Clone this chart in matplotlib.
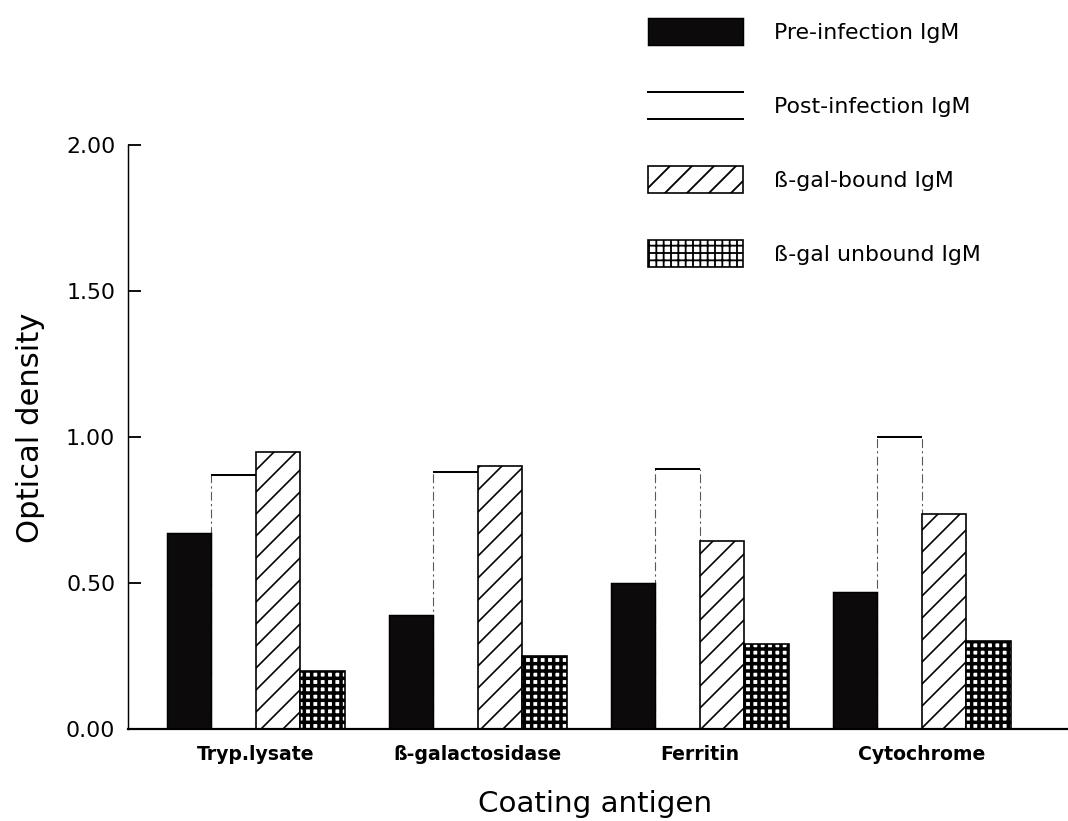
import numpy as np
import matplotlib
matplotlib.use("Agg")
import matplotlib.pyplot as plt
from matplotlib.patches import Patch
from matplotlib.lines import Line2D

# ---- data ----
categories = ["Tryp.lysate", "\u00df-galactosidase", "Ferritin", "Cytochrome"]
pre_infection = [0.67, 0.39, 0.50, 0.47]
post_infection = [0.87, 0.88, 0.89, 1.00]
bgal_bound = [0.95, 0.90, 0.645, 0.735]
bgal_unbound = [0.20, 0.25, 0.29, 0.30]
series_labels = ["Pre-infection IgM", "Post-infection IgM",
                 "\u00df-gal-bound IgM", "\u00df-gal unbound IgM"]
yticks = [0.0, 0.5, 1.0, 1.5, 2.0]
ytick_labels = ["0.00", "0.50", "1.00", "1.50", "2.00"]

DPI = 132
plt.rcParams['font.family'] = ['DejaVu Sans']
fig = plt.figure(figsize=(1068 / DPI, 821 / DPI), dpi=DPI)
ax = fig.add_axes([128 / 1068, 92 / 821, 940 / 1068, 584 / 821])

group_step = 5
idx = np.arange(len(categories)) * group_step
w = 1.0

def set_hlw(p, lw):
    if hasattr(p, "set_hatch_linewidth"):
        p.set_hatch_linewidth(lw)

# post-infection (open bars with top line and faint dashed sides)
ax.bar(idx + 1, post_infection, width=w, align='edge',
       facecolor='white', edgecolor='none', zorder=1)
ax.hlines(post_infection, idx + 1, idx + 2, colors='black', lw=1.1, zorder=3)
ax.vlines(idx + 1, 0, post_infection, colors='0.35', lw=0.6,
          linestyles=(0, (8, 3, 2, 3)), zorder=1)
ax.vlines(idx + 2, 0, post_infection, colors='0.35', lw=0.6,
          linestyles=(0, (8, 3, 2, 3)), zorder=1)

# pre-infection (solid black)
ax.bar(idx, pre_infection, width=w, align='edge', facecolor='#0d0a0b',
       edgecolor='black', lw=0.8, zorder=2)

# beta-gal bound (diagonal hatch)
with plt.rc_context({'hatch.linewidth': 0.9}):
    bb = ax.bar(idx + 2, bgal_bound, width=w, align='edge', facecolor='white',
                edgecolor='black', lw=0.9, hatch='//', zorder=2)
for p in bb:
    set_hlw(p, 0.9)

# beta-gal unbound (dense grid)
with plt.rc_context({'hatch.linewidth': 1.9}):
    ub = ax.bar(idx + 3, bgal_unbound, width=w, align='edge', facecolor='white',
                edgecolor='black', lw=0.9, hatch='+++', zorder=2)
for p in ub:
    set_hlw(p, 1.9)

ax.set_xlim(-39 / 44.4, (1068 - 167) / 44.4)
ax.set_ylim(0, 2.0)

ax.spines['top'].set_visible(False)
ax.spines['right'].set_visible(False)
ax.spines['left'].set_linewidth(0.8)
ax.spines['bottom'].set_linewidth(1.2)

ax.set_yticks(yticks)
ax.set_yticklabels(ytick_labels, fontsize=12)
ax.tick_params(axis='y', direction='in', length=7, width=1.0, pad=7)

ax.set_xticks(idx + 2)
ax.set_xticklabels(categories, fontsize=10.3, fontweight='bold')
ax.tick_params(axis='x', length=0, pad=8.5)

ax.set_xlabel("Coating antigen", fontsize=16)
ax.xaxis.set_label_coords(0.497, -0.104)
ax.xaxis.label.set_verticalalignment('top')
ax.set_ylabel("Optical density", fontsize=16.7)
ax.yaxis.set_label_coords(-0.088, 0.515)


class TopBottomHandler:
    def legend_artist(self, legend, orig_handle, fontsize, handlebox):
        x0, y0 = -handlebox.xdescent, -handlebox.ydescent
        wd, ht = handlebox.width, handlebox.height
        tr = handlebox.get_transform()
        l1 = Line2D([x0, x0 + wd], [y0, y0], color='black', lw=1.1, transform=tr)
        l2 = Line2D([x0, x0 + wd], [y0 + ht, y0 + ht], color='black', lw=1.1, transform=tr)
        handlebox.add_artist(l1)
        handlebox.add_artist(l2)
        return l1

h_pre = Patch(facecolor='#0d0a0b', edgecolor='black', lw=0.8)
h_post = Patch(facecolor='white', edgecolor='none')
with plt.rc_context({'hatch.linewidth': 0.9}):
    h_bound = Patch(facecolor='white', edgecolor='black', lw=0.9, hatch='//')
set_hlw(h_bound, 0.9)
with plt.rc_context({'hatch.linewidth': 1.9}):
    h_unb = Patch(facecolor='white', edgecolor='black', lw=0.9, hatch='+++')
set_hlw(h_unb, 1.9)

leg = fig.legend([h_pre, h_post, h_bound, h_unb], series_labels,
                 loc='upper left', bbox_to_anchor=(648 / 1068, 1 - 18 / 821),
                 frameon=False, fontsize=12, borderpad=0, borderaxespad=0,
                 handlelength=4.3, handleheight=1.5, handletextpad=1.45,
                 labelspacing=2.15, handler_map={h_post: TopBottomHandler()})

fig.savefig("out.png", dpi=DPI)
